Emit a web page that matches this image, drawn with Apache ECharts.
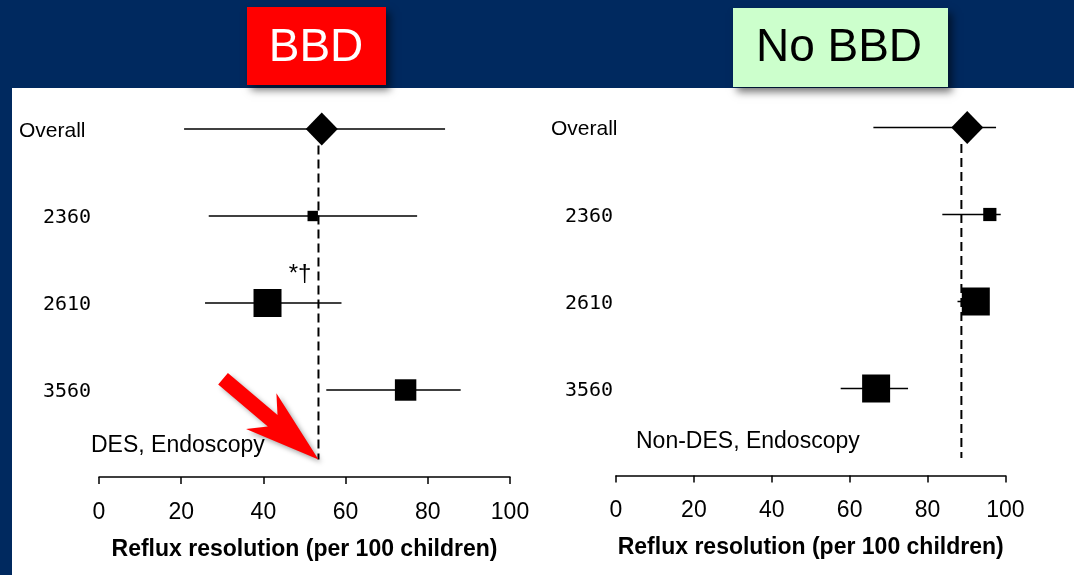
<!DOCTYPE html>
<html><head><meta charset="utf-8">
<script src="https://cdn.jsdelivr.net/npm/echarts@6/dist/echarts.min.js"></script>
<style>html,body{margin:0;padding:0;background:#00295F;}#c{width:1074px;height:575px;}</style>
</head><body><div id="c"></div>
<script>
// ---- data ----
const rowNames = ['Overall', '2360', '2610', '3560'];
const rowY = [4, 3, 2, 1];
const xTicks = [0, 20, 40, 60, 80, 100];
const axisTitle = 'Reflux resolution (per 100 children)';
const panelTitles = ['BBD', 'No BBD'];
const panelNotes = ['DES, Endoscopy', 'Non-DES, Endoscopy'];
// BBD panel
const bbdStudyEst = [52.0, 41.0, 74.6];
const bbdStudyLo = [26.7, 25.8, 55.3];
const bbdStudyHi = [77.4, 59.0, 88.0];
const bbdWeight = [8, 58, 34];
const bbdOverall = [54.2, 20.7, 84.2]; // estimate, low, high
const bbdRef = 53.4;
// No BBD panel
const nbStudyEst = [96.0, 92.4, 66.8];
const nbStudyLo = [83.8, 87.7, 57.7];
const nbStudyHi = [98.8, 95.0, 75.0];
const nbWeight = [10, 45, 45];
const nbOverall = [90.2, 66.1, 97.6];
const nbRef = 88.7;

const FONT = '"Liberation Sans", Arial, sans-serif';
const chart = echarts.init(document.getElementById('c'));

function studyData(est, lo, hi, w) {
  return est.map((e, i) => [e, rowY[i + 1], lo[i], hi[i], w[i]]);
}
function renderStudy(maxW) {
  return function (params, api) {
    const est = api.value(0), y = api.value(1), lo = api.value(2), hi = api.value(3), w = api.value(4);
    const pLo = api.coord([lo, y]), pHi = api.coord([hi, y]), pE = api.coord([est, y]);
    const s = Math.sqrt(w / maxW) * 28;
    return { type: 'group', children: [
      { type: 'line', shape: { x1: pLo[0], y1: pLo[1], x2: pHi[0], y2: pHi[1] }, style: { stroke: '#000', lineWidth: 1.5 } },
      { type: 'rect', shape: { x: pE[0] - s / 2, y: pE[1] - s / 2, width: s, height: s }, style: { fill: '#000' } }
    ]};
  };
}
function renderOverall(params, api) {
  const est = api.value(0), y = api.value(1), lo = api.value(2), hi = api.value(3);
  const pLo = api.coord([lo, y]), pHi = api.coord([hi, y]), p = api.coord([est, y]);
  const hw = 16, hh = 16.5;
  return { type: 'group', children: [
    { type: 'line', shape: { x1: pLo[0], y1: pLo[1], x2: pHi[0], y2: pHi[1] }, style: { stroke: '#000', lineWidth: 1.5 } },
    { type: 'polygon', shape: { points: [[p[0], p[1] - hh], [p[0] + hw, p[1]], [p[0], p[1] + hh], [p[0] - hw, p[1]]] }, style: { fill: '#000' } }
  ]};
}
function xAxisCfg(idx) {
  return {
    gridIndex: idx, type: 'value', min: xTicks[0], max: xTicks[xTicks.length - 1], interval: xTicks[1] - xTicks[0],
    axisLine: { show: true, onZero: false, lineStyle: { color: '#000', width: 1.5 } },
    axisTick: { show: true, length: 7, lineStyle: { color: '#000', width: 1.5 } },
    axisLabel: { color: '#000', fontSize: 23, margin: 24, fontFamily: FONT },
    splitLine: { show: false },
    name: axisTitle, nameLocation: 'middle', nameGap: 61,
    nameTextStyle: { color: '#000', fontWeight: 'bold', fontSize: 23, fontFamily: FONT }
  };
}
function yAxisCfg(idx) { return { gridIndex: idx, type: 'value', min: 0, max: 4.5, show: false }; }

const dashStyle = { color: '#000', width: 2, type: [9, 5] };

chart.setOption({
  backgroundColor: '#00295F',
  animation: false,
  grid: [
    { left: 99, width: 411, top: 85.5, height: 391.5 },
    { left: 616, width: 389.4, top: 84, height: 391.5 }
  ],
  xAxis: [xAxisCfg(0), xAxisCfg(1)],
  yAxis: [yAxisCfg(0), yAxisCfg(1)],
  series: [
    { type: 'line', xAxisIndex: 0, yAxisIndex: 0, data: [[bbdRef, 3.81], [bbdRef, 0.2]], symbol: 'none', lineStyle: dashStyle, z: 3 },
    { type: 'custom', xAxisIndex: 0, yAxisIndex: 0, renderItem: renderStudy(Math.max(...bbdWeight)),
      data: studyData(bbdStudyEst, bbdStudyLo, bbdStudyHi, bbdWeight), encode: { x: 0, y: 1 }, z: 4 },
    { type: 'custom', xAxisIndex: 0, yAxisIndex: 0, renderItem: renderOverall,
      data: [[bbdOverall[0], rowY[0], bbdOverall[1], bbdOverall[2]]], encode: { x: 0, y: 1 }, z: 4 },
    { type: 'line', xAxisIndex: 1, yAxisIndex: 1, data: [[nbRef, 3.81], [nbRef, 0.2]], symbol: 'none', lineStyle: dashStyle, z: 3 },
    { type: 'custom', xAxisIndex: 1, yAxisIndex: 1, renderItem: renderStudy(Math.max(...nbWeight)),
      data: studyData(nbStudyEst, nbStudyLo, nbStudyHi, nbWeight), encode: { x: 0, y: 1 }, z: 4 },
    { type: 'custom', xAxisIndex: 1, yAxisIndex: 1, renderItem: renderOverall,
      data: [[nbOverall[0], rowY[0], nbOverall[1], nbOverall[2]]], encode: { x: 0, y: 1 }, z: 4 }
  ]
});

// ---- annotations ----
const g = [];
g.push({ type: 'rect', silent: true, z: 0, shape: { x: 12, y: 88, width: 1062, height: 487 }, style: { fill: '#fff' } });
const shadow = { shadowBlur: 8, shadowOffsetX: 4, shadowOffsetY: 5, shadowColor: 'rgba(0,0,0,0.55)' };
g.push({ type: 'rect', z: 50, shape: { x: 247, y: 7, width: 139, height: 78 }, style: Object.assign({ fill: '#FF0000' }, shadow) });
g.push({ type: 'text', z: 51, x: 316, y: 48, style: { text: panelTitles[0], fill: '#fff', font: '46px ' + FONT, align: 'center', verticalAlign: 'middle' } });
g.push({ type: 'rect', z: 50, shape: { x: 733, y: 8, width: 215, height: 79 }, style: Object.assign({ fill: '#CCFFCC' }, shadow) });
g.push({ type: 'text', z: 51, x: 839, y: 48, style: { text: panelTitles[1], fill: '#000', font: '46px ' + FONT, align: 'center', verticalAlign: 'middle' } });

const labelX = [[19, 43], [551, 565]];
[0, 1].forEach(gi => {
  rowNames.forEach((name, i) => {
    const p = chart.convertToPixel({ gridIndex: gi }, [0, rowY[i]]);
    const isNum = i > 0;
    g.push({ type: 'text', z: 60, x: isNum ? labelX[gi][1] : labelX[gi][0], y: p[1] + 2,
      style: { text: name, fill: '#000', font: isNum ? '20px "DejaVu Sans Mono", monospace' : '21px ' + FONT, align: 'left', verticalAlign: 'middle' } });
  });
});
g.push({ type: 'text', z: 60, x: 91, y: 446, style: { text: panelNotes[0], fill: '#000', font: '23px ' + FONT, align: 'left', verticalAlign: 'middle' } });
g.push({ type: 'text', z: 60, x: 636, y: 442, style: { text: panelNotes[1], fill: '#000', font: '23px ' + FONT, align: 'left', verticalAlign: 'middle' } });

// significance mark near 2610 (BBD)
const dg = chart.convertToPixel({ gridIndex: 0 }, [48.9, rowY[2] + 0.33]);
g.push({ type: 'text', z: 60, x: dg[0], y: dg[1], style: { text: '*\u2020', fill: '#000', font: '24px ' + FONT, align: 'center', verticalAlign: 'middle' } });

// red arrow pointing at the BBD reference line
const tip = chart.convertToPixel({ gridIndex: 0 }, [bbdRef, 0.2]);
const U = [0.7635, 0.6462], V = [-0.6462, 0.7635], L = 125;
const uv = [[0, -7.5], [65, -7.5], [50, -23.5], [L, 0], [50, 23.5], [65, 7.5], [0, 7.5]];
const pts = uv.map(([u, v]) => [tip[0] - (L - u) * U[0] + v * V[0], tip[1] - (L - u) * U[1] + v * V[1]]);
g.push({ type: 'polygon', z: 70, shape: { points: pts }, style: { fill: '#FF0000', shadowBlur: 5, shadowOffsetX: 3, shadowOffsetY: 3, shadowColor: 'rgba(0,0,0,0.35)' } });

chart.setOption({ graphic: g });
</script></body></html>
